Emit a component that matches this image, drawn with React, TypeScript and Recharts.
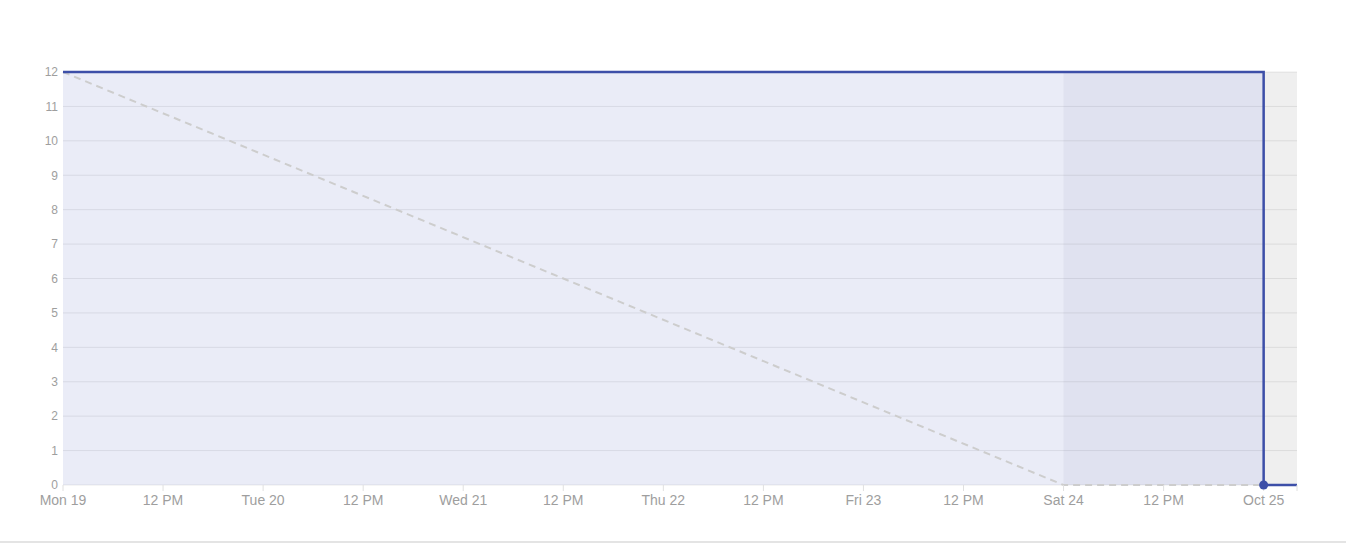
import { ComposedChart, Area, Line, XAxis, YAxis, CartesianGrid, ReferenceArea } from 'recharts';

// hours since Mon 19 00:00
const hours = [0, 120, 144, 148];
const remaining = [12, 12, 0, 0];
const ideal = [12, 0, 0, null];

const xTicks = [0, 12, 24, 36, 48, 60, 72, 84, 96, 108, 120, 132, 144, 148];
const dayLabels = ['Mon 19', 'Tue 20', 'Wed 21', 'Thu 22', 'Fri 23', 'Sat 24', 'Oct 25'];
const yTicks = [0, 1, 2, 3, 4, 5, 6, 7, 8, 9, 10, 11, 12];

const weekend = [120, 144];
const afterEnd = [144, 148];

const chartData = hours.map((t, i) => ({ t, remaining: remaining[i], ideal: ideal[i] }));

function formatTick(t: number) {
  if (t % 24 === 12) return '12 PM';
  if (t % 24 === 0) return dayLabels[t / 24] ?? '';
  return '';
}

const BLUE = '#3d4fa8';

export default function App() {
  return (
    <div style={{ position: 'absolute', left: 0, top: 0, width: 1346, height: 544, fontFamily: '"Liberation Sans", Arial, sans-serif' }}>
      <ComposedChart
        width={1346}
        height={541}
        data={chartData}
        margin={{ top: 72, right: 49, left: 0, bottom: 26 }}
      >
        <CartesianGrid vertical={false} stroke="#ebebeb" strokeWidth={1} />
        <ReferenceArea x1={afterEnd[0]} x2={afterEnd[1]} y1={0} y2={12} fill="#000" fillOpacity={0.063} stroke="none" />
        <XAxis
          dataKey="t"
          type="number"
          domain={[0, 148]}
          ticks={xTicks}
          tickFormatter={formatTick}
          axisLine={false}
          tickLine={{ stroke: '#e0e0e0' }}
          tickSize={6}
          tickMargin={4}
          height={30}
          tick={{ fontSize: 14, fill: '#9e9e9e' }}
          interval={0}
        />
        <YAxis
          type="number"
          domain={[0, 12]}
          ticks={yTicks}
          width={63}
          axisLine={false}
          tickLine={false}
          tickSize={0}
          tickMargin={5}
          tick={{ fontSize: 12, fill: '#9e9e9e' }}
          interval={0}
        />
        <Area
          type="stepAfter"
          dataKey="remaining"
          stroke="none"
          fill="#3f51b5"
          fillOpacity={0.11}
          isAnimationActive={false}
          dot={false}
          activeDot={false}
        />
        <ReferenceArea x1={weekend[0]} x2={weekend[1]} y1={0} y2={12} fill="#20205a" fillOpacity={0.045} stroke="none" />
        <Line
          type="linear"
          dataKey="ideal"
          stroke="#cdcdcd"
          strokeWidth={2}
          strokeDasharray="7 5"
          dot={false}
          activeDot={false}
          isAnimationActive={false}
        />
        <Line
          type="stepAfter"
          dataKey="remaining"
          stroke={BLUE}
          strokeWidth={2.5}
          isAnimationActive={false}
          activeDot={false}
          dot={(p: any) =>
            p.payload.t === afterEnd[0] ? (
              <circle key={p.index} cx={p.cx} cy={p.cy} r={4.5} fill={BLUE} stroke="none" />
            ) : (
              <g key={p.index} />
            )
          }
        />
      </ComposedChart>
      <div style={{ position: 'absolute', left: 0, top: 541, width: 1346, height: 2, background: '#e4e4e4' }} />
    </div>
  );
}
